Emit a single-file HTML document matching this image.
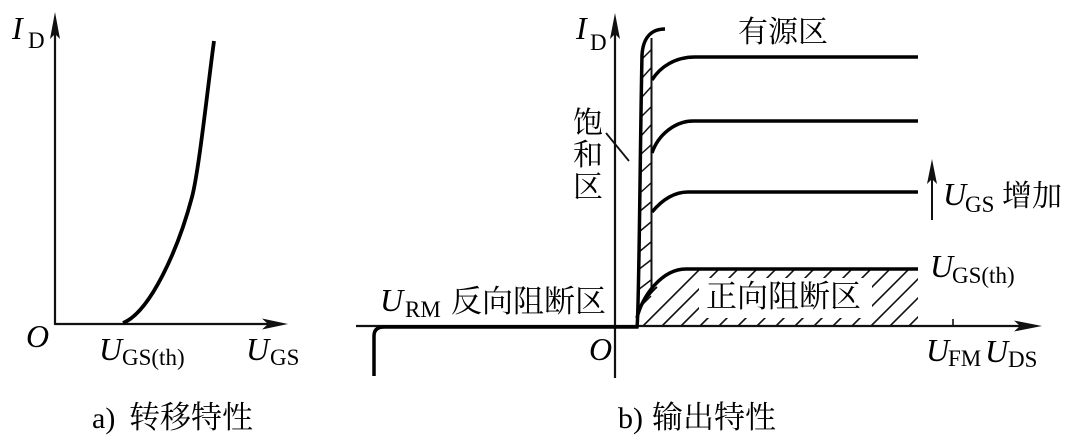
<!DOCTYPE html>
<html><head><meta charset="utf-8"><style>
html,body{margin:0;padding:0;background:#fff}
svg{display:block}
text{font-family:"Liberation Serif","Noto Serif CJK SC",serif;fill:#000}
.i{font-style:italic;font-size:32px}
.s{font-size:23px}
.c{font-family:"Liberation Serif","Noto Serif CJK SC",serif;font-size:30px}
.d{font-family:"Liberation Serif","Noto Serif CJK SC",serif;font-size:31px}
</style></head><body>
<svg width="1077" height="443" viewBox="0 0 1077 443" xmlns="http://www.w3.org/2000/svg">
<defs>
<clipPath id="hc"><path d="M640 326C643 300 660 270 690 270H918V326Z"/></clipPath>
</defs>
<rect width="1077" height="443" fill="#fff"/>
<!-- Axes -->
<g stroke="#111" fill="none" stroke-width="2.2">
<path d="M55 325V30"/><path d="M55 324H270"/>
<path d="M615 378V30"/><path d="M356 326H1024"/>
<path d="M953 326V319" stroke-width="1.6"/>
<path d="M606 133L629 161" stroke-width="1.8"/>
<path d="M932 220V176" stroke-width="2"/>
</g>
<g fill="#111">
<path d="M55 12L60 39L55 34L50 39Z"/>
<path d="M615 13L620 39L615 34L610 39Z"/>
<path d="M288 324L262 318.500L268 324L262 329.500Z"/>
<path d="M1042 326L1014 320.500L1020 326L1014 331.500Z"/>
<path d="M932 159L937 184L932 179L927 184Z"/>
</g>
<!-- Hatching bottom -->
<g clip-path="url(#hc)" stroke="#111" stroke-width="1.6">
<path d="M643 326l60-60M662 326l60-60M681 326l60-60M700 326l60-60M719 326l60-60M738 326l60-60M757 326l60-60M776 326l60-60M795 326l60-60M814 326l60-60M833 326l60-60M852 326l60-60M871 326l60-60M890 326l60-60M909 326l60-60"/>
</g>
<rect x="699" y="278" width="173" height="40" fill="#fff"/>
<!-- Hatching band -->
<g stroke="#111" stroke-width="1.5">
<path d="M643 58L651 50M642 78L651 68M642 97L651 87M641 117L651 107M641 136L651 125M640 155L651 145M640 173L651 163M640 193L651 183M639 212L651 202M639 232L651 222M639 252L651 242M638 270L651 260M638 290L651 280M638 309L651 296"/>
<path d="M651.500 38V288" stroke-width="2"/>
</g>
<!-- Curves -->
<g stroke="#000" fill="none" stroke-width="3.5">
<path d="M123 323C150 312 178 250 192 197C199 170.500 208 85 214 41" stroke-width="3.800"/>
<path d="M374 376V336Q374 327 384 327H637C639 316 640 150 642 55C643 38 651 29 665 29"/>
<path d="M652 80C660 67 675 57 695 57H918"/>
<path d="M652 153C658 135 675 121 693 121H918"/>
<path d="M652 212C662 200 674 192 688 192H918"/>
<path d="M637 318C642 296 662 269 686 269H918"/>
<path d="M638 310C645 300 651 292 657 287" stroke-width="1.800"/>
</g>
<!-- Labels left -->
<text class="i" x="12" y="39">I</text><text class="s" x="28" y="48">D</text>
<text class="i" x="26" y="347">O</text>
<text class="i" x="99" y="360">U</text><text class="s" x="122" y="365">GS(th)</text>
<text class="i" x="246" y="360">U</text><text class="s" x="270" y="365">GS</text>
<text class="c" x="92" y="428">a)</text>
<text class="d" x="129" y="428">转移特性</text>
<!-- Labels right -->
<text class="i" x="576" y="39">I</text><text class="s" x="590" y="50">D</text>
<text class="c" x="738" y="42">有源区</text>
<text class="c" x="573" y="133">饱</text>
<text class="c" x="573" y="165">和</text>
<text class="c" x="573" y="197">区</text>
<text class="i" x="380" y="311">U</text><text class="s" x="405" y="317">RM</text>
<text class="d" x="451" y="312">反向阻断区</text>
<text class="d" x="706" y="307">正向阻断区</text>
<text class="i" x="589" y="360">O</text>
<text class="i" x="943" y="205">U</text><text class="s" x="965" y="212">GS</text>
<text class="c" x="1002" y="206">增加</text>
<text class="i" x="930" y="277">U</text><text class="s" x="952" y="283">GS(th)</text>
<text class="i" x="926" y="361">U</text><text class="s" x="948" y="366">FM</text>
<text class="i" x="985" y="362">U</text><text class="s" x="1008" y="367">DS</text>
<text class="c" x="618" y="428">b)</text>
<text class="d" x="652" y="428">输出特性</text>
</svg>
</body></html>
